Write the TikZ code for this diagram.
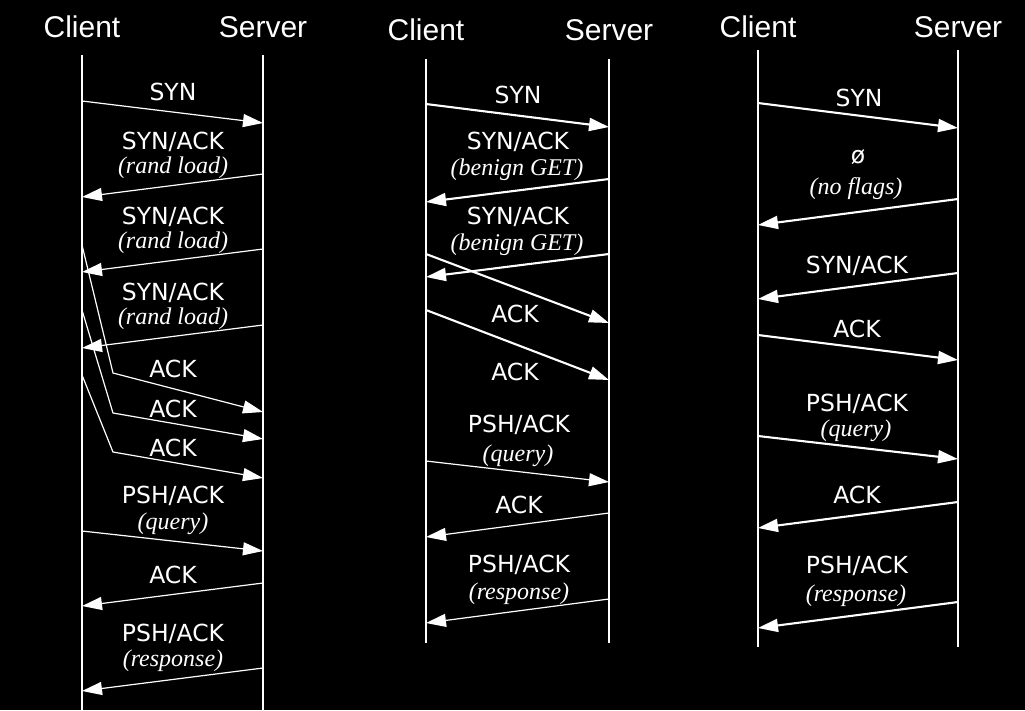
\documentclass[tikz,border=0pt]{standalone}
\usepackage{fontspec}
\usetikzlibrary{arrows.meta,positioning,calc}
\newfontfamily\headfont{Liberation Sans}
\newfontfamily\flagfont{DejaVu Sans}
\newfontfamily\notefont{Liberation Serif}

\tikzset{
  party/.style={anchor=base, text=white, inner sep=0pt, font=\headfont\fontsize{30}{32}\selectfont},
  flag/.style={anchor=base, text=white, inner sep=0pt, font=\flagfont\fontsize{23.5}{25}\selectfont},
  note/.style={anchor=base, text=white, inner sep=0pt, font=\notefont\itshape\fontsize{24}{26}\selectfont},
  lifeline/.style={draw=white, line width=1.1pt},
  msg/.style={draw=white, line width=1.2pt, -{Triangle[length=20pt,width=13pt]}},
  boldmsg/.style={msg, line width=2.1pt},
}

\begin{document}
\begin{tikzpicture}[x=1pt,y=-1pt]
    % Background
    \fill[black] (0,0) rectangle (1025,710);

    % Left: random load
    \node[party] (cA) at (82,37) {Client};
    \node[party] (sA) at (263,37) {Server};
    \draw[lifeline] (cA |- 0,55) -- (cA |- 0,710);
    \draw[lifeline] (sA |- 0,55) -- (sA |- 0,710);

    \node[flag] (synA) at (173,100) {SYN};
    \draw[msg] (cA |- 0,101) -- (sA |- 0,123);
    \foreach \i/\y in {1/0, 2/75, 3/151} {
        \node[flag] (saA\i) at (173,149+\y) {SYN/ACK};
        \node[note] (rlA\i) at (173,173+\y) {(rand load)};
        \draw[msg] (sA |- 0,174+\y) -- (cA |- 0,197+\y);
    }
    \foreach \i/\a/\b/\c in {1/245/373/412, 2/310/413/439, 3/375/452/478} {
        \coordinate (kA\i) at (113,\b);
        \node[flag] (ackA\i) at (173,\b+4) {ACK};
        \draw[msg] (cA |- 0,\a) -- (kA\i) -- (sA |- 0,\c);
    }
    \node[flag] (pshA) at (173,503) {PSH/ACK};
    \node[note] (qryA) at (173,529) {(query)};
    \draw[msg] (cA |- 0,531) -- (sA |- 0,551);
    \node[flag] (ackA4) at (173,583) {ACK};
    \draw[msg] (sA |- 0,583) -- (cA |- 0,606);
    \node[flag] (rspA) at (173,641) {PSH/ACK};
    \node[note] (resA) at (173,666) {(response)};
    \draw[msg] (sA |- 0,668) -- (cA |- 0,691);

    % Middle: benign GET
    \node[party] (cB) at (426,40) {Client};
    \node[party] (sB) at (609,40) {Server};
    \draw[lifeline] (cB |- 0,59) -- (cB |- 0,643);
    \draw[lifeline] (sB |- 0,59) -- (sB |- 0,643);

    \node[flag] (synB) at (518,103) {SYN};
    \draw[boldmsg] (cB |- 0,104) -- (sB |- 0,127);
    \foreach \i/\y in {1/0, 2/75} {
        \node[flag] (saB\i) at (518,149+\y) {SYN/ACK};
        \node[note] (bgB\i) at (517,175+\y) {(benign GET)};
        \draw[boldmsg] (sB |- 0,179+\y) -- (cB |- 0,202+\y);
    }
    \node[flag] (ackB1) at (515,322) {ACK};
    \draw[boldmsg] (cB |- 0,254) -- (sB |- 0,323);
    \node[flag] (ackB2) at (515,380) {ACK};
    \draw[boldmsg] (cB |- 0,310) -- (sB |- 0,380);
    \node[flag] (pshB) at (519,432) {PSH/ACK};
    \node[note] (qryB) at (518,461) {(query)};
    \draw[msg] (cB |- 0,461) -- (sB |- 0,482);
    \node[flag] (ackB3) at (519,513) {ACK};
    \draw[msg] (sB |- 0,513) -- (cB |- 0,537);
    \node[flag] (rspB) at (519,572) {PSH/ACK};
    \node[note] (resB) at (519,599) {(response)};
    \draw[msg] (sB |- 0,599) -- (cB |- 0,623);

    % Right: no flags
    \node[party] (cC) at (758,37) {Client};
    \node[party] (sC) at (958,37) {Server};
    \draw[lifeline] (cC |- 0,50) -- (cC |- 0,647);
    \draw[lifeline] (sC |- 0,50) -- (sC |- 0,647);

    \node[flag] (synC) at (859,106) {SYN};
    \draw[boldmsg] (cC |- 0,103) -- (sC |- 0,128);
    \node[flag] (nulC) at (858,163) {ø};
    \node[note] (nfC) at (856,194) {(no flags)};
    \draw[boldmsg] (sC |- 0,199) -- (cC |- 0,225);
    \node[flag] (saC) at (857,273) {SYN/ACK};
    \draw[boldmsg] (sC |- 0,273) -- (cC |- 0,299);
    \node[flag] (ackC1) at (857,337) {ACK};
    \draw[boldmsg] (cC |- 0,335) -- (sC |- 0,360);
    \node[flag] (pshC) at (857,411) {PSH/ACK};
    \node[note] (qryC) at (856,436) {(query)};
    \draw[boldmsg] (cC |- 0,436) -- (sC |- 0,459);
    \node[flag] (ackC2) at (857,503) {ACK};
    \draw[boldmsg] (sC |- 0,502) -- (cC |- 0,528);
    \node[flag] (rspC) at (857,573) {PSH/ACK};
    \node[note] (resC) at (856,601) {(response)};
    \draw[boldmsg] (sC |- 0,602) -- (cC |- 0,628);
\end{tikzpicture}
\end{document}
